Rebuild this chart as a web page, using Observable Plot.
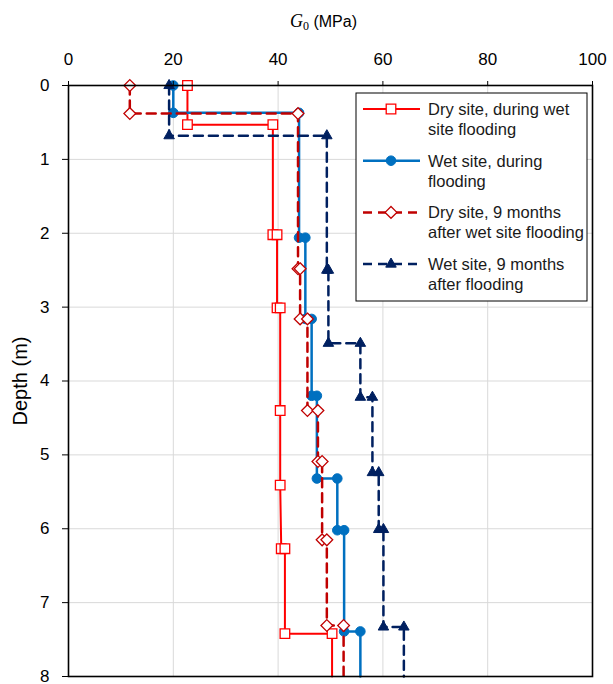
<!DOCTYPE html>
<html>
<head>
<meta charset="utf-8">
<script src="https://cdn.jsdelivr.net/npm/d3@7"></script>
<script src="https://cdn.jsdelivr.net/npm/@observablehq/plot@0.6"></script>
<style>
  body { margin: 0; background: #fff; }
  svg { display: block; }
</style>
</head>
<body>
<div id="chart"></div>
<script>
// ---- tick labels ----
const xTicks = [0, 20, 40, 60, 80, 100];
const yTicks = [0, 1, 2, 3, 4, 5, 6, 7, 8];
const xGrid = [20, 40, 60, 80];
const yGrid = [1, 2, 3, 4, 5, 6, 7];

// ---- series names ----
const seriesNames = [
  ["Dry site, during wet", "site flooding"],
  ["Wet site, during", "flooding"],
  ["Dry site, 9 months", "after wet site flooding"],
  ["Wet site, 9 months", "after flooding"]
];

// ---- series values: G0 (MPa) and depth (m) ----
const dryDuringG     = [22.7, 22.7, 39.0, 39.0, 39.8, 39.8, 40.4, 40.4, 40.4, 40.6, 41.3, 41.3, 50.3, 50.3];
const dryDuringDepth = [0,    0.53, 0.53, 2.02, 2.02, 3.01, 3.01, 4.40, 5.41, 6.27, 6.27, 7.42, 7.42, 8];

const wetDuringG     = [20.0, 20.0, 44.0, 44.0, 45.2, 45.2, 46.4, 46.4, 47.4, 47.4, 51.3, 51.3, 52.6, 52.6, 55.7, 55.7];
const wetDuringDepth = [0,    0.37, 0.37, 2.06, 2.06, 3.16, 3.16, 4.20, 4.20, 5.32, 5.32, 6.02, 6.02, 7.39, 7.39, 8];

const dry9G          = [11.7, 11.7, 43.8, 43.8, 44.2, 44.2, 45.6, 45.6, 47.6, 47.6, 48.4, 48.4, 49.3, 49.3, 52.5, 52.5];
const dry9Depth      = [0,    0.38, 0.38, 2.48, 2.48, 3.16, 3.16, 4.40, 4.40, 5.09, 5.09, 6.15, 6.15, 7.31, 7.31, 8];

const wet9G          = [19.2, 19.2, 49.3, 49.3, 49.6, 49.6, 55.7, 55.7, 58.0, 58.0, 59.2, 59.2, 60.1, 60.1, 64.0, 64.0];
const wet9Depth      = [0,    0.68, 0.68, 2.50, 2.50, 3.49, 3.49, 4.22, 4.22, 5.24, 5.24, 6.01, 6.01, 7.33, 7.33, 8];

// ---- styles ----
const styles = [
  {stroke: "#ff0000", width: 2,   dash: null,  symbol: "square",   r: 5.4, fill: "white",   mstroke: "#ff0000", msw: 1.3},
  {stroke: "#0070c0", width: 2.5, dash: null,  symbol: "circle",   r: 4.8, fill: "#0070c0", mstroke: "#0070c0", msw: 1},
  {stroke: "#c00000", width: 2.5, dash: "9,6", symbol: "diamond2", r: 5.3, fill: "white",   mstroke: "#c00000", msw: 1.3},
  {stroke: "#002060", width: 2.5, dash: "9,6", symbol: "triangle", r: 3.9, fill: "#002060", mstroke: "#002060", msw: 1}
];

const seriesData = [
  [dryDuringG, dryDuringDepth],
  [wetDuringG, wetDuringDepth],
  [dry9G, dry9Depth],
  [wet9G, wet9Depth]
].map(([g, d]) => g.map((v, i) => ({g: v, depth: d[i]})));

const marks = [
  Plot.gridX(xGrid, {stroke: "#d9d9d9", strokeOpacity: 1, strokeWidth: 1}),
  Plot.gridY(yGrid, {stroke: "#d9d9d9", strokeOpacity: 1, strokeWidth: 1}),
];
seriesData.forEach((rows, i) => {
  const s = styles[i];
  marks.push(Plot.line(rows, {x: "g", y: "depth", stroke: s.stroke, strokeWidth: s.width, strokeDasharray: s.dash}));
  marks.push(Plot.dot(rows.filter(d => d.depth < 8), {x: "g", y: "depth", symbol: s.symbol, r: s.r, fill: s.fill, stroke: s.mstroke, strokeWidth: s.msw}));
});
marks.push(
  Plot.frame({stroke: "black", strokeWidth: 1.6}),
  Plot.axisX(xTicks, {anchor: "top", tickSize: 5, tickPadding: 16, label: null, fontSize: 17, tickFormat: d3.format("d")}),
  Plot.axisY(yTicks, {anchor: "left", tickSize: 6, tickPadding: 13, label: null, fontSize: 17, tickFormat: d3.format("d")})
);

const chart = Plot.plot({
  width: 613,
  height: 684,
  marginLeft: 68,
  marginRight: 21,
  marginTop: 85,
  marginBottom: 8,
  style: {fontFamily: "'Liberation Sans', Arial, sans-serif", fontSize: "17px", color: "black", background: "white"},
  x: {domain: [0, 100], axis: null},
  y: {domain: [0, 8], reverse: true, axis: null},
  marks
});

document.getElementById("chart").appendChild(chart);

const svg = d3.select(chart);

// Title: G0 (MPa)
const title = svg.append("text")
  .attr("x", 290).attr("y", 27)
  .attr("text-anchor", "start")
  .style("font-size", "16px")
  .attr("fill", "black");
title.append("tspan").style("font-family", "'Liberation Serif', 'Times New Roman', serif").style("font-style", "italic").style("font-size", "18px").text("G");
title.append("tspan").style("font-family", "'Liberation Serif', 'Times New Roman', serif").style("font-size", "12px").attr("dy", 3).text("0");
title.append("tspan").attr("dy", -3).text(" (MPa)");

// Y label
svg.append("text")
  .attr("transform", "translate(27,381) rotate(-90)")
  .attr("text-anchor", "middle")
  .style("font-size", "20px")
  .attr("fill", "black")
  .text("Depth (m)");

// Legend
const lg = svg.append("g").attr("text-anchor", "start");
lg.append("rect").attr("x", 356).attr("y", 93).attr("width", 231).attr("height", 208)
  .attr("fill", "white").attr("stroke", "black").attr("stroke-width", 1);
seriesNames.forEach((lines, i) => {
  const s = styles[i];
  const cy = 109 + i * 51.7;
  lg.append("line").attr("x1", 363).attr("x2", 420).attr("y1", cy).attr("y2", cy)
    .attr("stroke", s.stroke).attr("stroke-width", s.width)
    .attr("stroke-dasharray", s.dash);
  const sym = {square: d3.symbolSquare, circle: d3.symbolCircle, diamond2: d3.symbolDiamond2, triangle: d3.symbolTriangle}[s.symbol];
  lg.append("path").attr("d", d3.symbol(sym, Math.PI * s.r * s.r)())
    .attr("transform", `translate(391,${cy})`)
    .attr("fill", s.fill).attr("stroke", s.mstroke).attr("stroke-width", s.msw);
  lines.forEach((t, j) => {
    lg.append("text").attr("x", 428).attr("y", cy + 6 + j * 20)
      .attr("text-anchor", "start")
      .style("font-size", "16.5px").attr("fill", "#1a1a1a").text(t);
  });
});
</script>
</body>
</html>
